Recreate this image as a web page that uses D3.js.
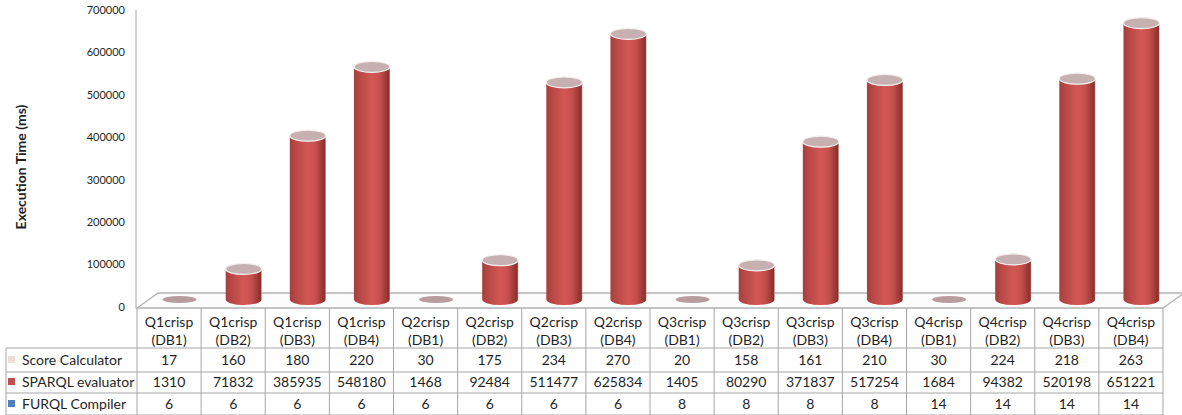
<!DOCTYPE html>
<html>
<head>
<meta charset="utf-8">
<script src="https://cdn.jsdelivr.net/npm/d3@7"></script>
<style>
  html, body { margin: 0; padding: 0; background: #fff; }
  svg { display: block; }
  text { font-family: Lato, "Open Sans", sans-serif; fill: #1f1f1f; }
</style>
</head>
<body>
<svg id="chart" width="1182" height="415"></svg>
<script>
// Queries run on each database
const categories = [
  ["Q1crisp", "(DB1)"], ["Q1crisp", "(DB2)"], ["Q1crisp", "(DB3)"], ["Q1crisp", "(DB4)"],
  ["Q2crisp", "(DB1)"], ["Q2crisp", "(DB2)"], ["Q2crisp", "(DB3)"], ["Q2crisp", "(DB4)"],
  ["Q3crisp", "(DB1)"], ["Q3crisp", "(DB2)"], ["Q3crisp", "(DB3)"], ["Q3crisp", "(DB4)"],
  ["Q4crisp", "(DB1)"], ["Q4crisp", "(DB2)"], ["Q4crisp", "(DB3)"], ["Q4crisp", "(DB4)"]
];

// Execution times (ms) per component
const furqlCompiler   = [6, 6, 6, 6, 6, 6, 6, 6, 8, 8, 8, 8, 14, 14, 14, 14];
const sparqlEvaluator = [1310, 71832, 385935, 548180, 1468, 92484, 511477, 625834,
                         1405, 80290, 371837, 517254, 1684, 94382, 520198, 651221];
const scoreCalculator = [17, 160, 180, 220, 30, 175, 234, 270,
                         20, 158, 161, 210, 30, 224, 218, 263];

const seriesNames = ["Score Calculator", "SPARQL evaluator", "FURQL Compiler"];
const seriesColors = ["#f2dcdb", "#c0504d", "#4f81bd"];
const yTicks = [0, 100000, 200000, 300000, 400000, 500000, 600000, 700000];

const svg = d3.select("#chart");

// Plot geometry
const plotLeft = 137, plotRight = 1163;
const depthX = 21, depthY = 15;          // 3-D floor depth offset
const floorY = 308;

const x = d3.scaleBand().domain(d3.range(categories.length)).range([plotLeft, plotRight]).padding(0);
const y = d3.scaleLinear().domain([0, 700000]).range([307, 10]);

// Stack bottom-up: compiler, evaluator, calculator
const rows = categories.map((c, i) => ({
  i, furql: furqlCompiler[i], sparql: sparqlEvaluator[i], score: scoreCalculator[i]
}));
const stack = d3.stack().keys(["furql", "sparql", "score"])(rows);

// Gradient for cylinder bodies
const defs = svg.append("defs");
function cylGradient(id, stops) {
  const g = defs.append("linearGradient").attr("id", id)
    .attr("x1", "0%").attr("x2", "100%").attr("y1", "0%").attr("y2", "0%");
  stops.forEach(([o, c]) => g.append("stop").attr("offset", o).attr("stop-color", c));
}
cylGradient("g-sparql", [["0%", "#a3403d"], ["18%", "#b94946"], ["50%", "#d25855"], ["72%", "#c64f4c"], ["90%", "#9c3835"], ["97%", "#8a2f2d"], ["100%", "#b98a8a"]]);
cylGradient("g-score", [["0%", "#cdb6b6"], ["50%", "#eadada"], ["100%", "#b8a0a0"]]);
cylGradient("g-furql", [["0%", "#3d6a9e"], ["50%", "#5b8ccb"], ["100%", "#345b88"]]);
const gradIds = { furql: "g-furql", sparql: "g-sparql", score: "g-score" };

// Floor of the 3-D plot
const floor = svg.append("g").attr("stroke", "#b3b3b3").attr("fill", "none").attr("stroke-width", 1.3);
floor.append("path").attr("d",
  `M${plotLeft},${floorY} L${plotLeft + depthX},${floorY - depthY} L${plotRight + depthX},${floorY - depthY} L${plotRight},${floorY} Z`)
  .attr("fill", "#fcfcfc");

// Y axis
const yAxis = svg.append("g");
yAxis.append("line").attr("x1", 136).attr("x2", 136).attr("y1", 10).attr("y2", floorY)
  .attr("stroke", "#a6a6a6").attr("stroke-width", 1);
yAxis.selectAll("text.tick").data(yTicks).join("text")
  .attr("class", "tick")
  .attr("x", 125).attr("y", d => y(d)).attr("dy", "0.35em")
  .attr("text-anchor", "end").attr("font-size", 11)
  .text(d => d3.format("d")(d));

svg.append("text")
  .attr("transform", "translate(26,167) rotate(-90)")
  .attr("text-anchor", "middle").attr("font-size", 14).attr("font-weight", "bold")
  .text("Execution Time (ms)");

// Cylinders
const rx = 18, ry = 5.5;
const shiftX = depthX / 2, shiftY = depthY / 2;
const bars = svg.append("g");
rows.forEach((r, i) => {
  const cx = x(i) + x.bandwidth() / 2 + shiftX;
  const g = bars.append("g");
  const base = y(0) - shiftY;
  const topV = stack[2][i][1];
  const topY = y(topV) - shiftY;
  if (topY > base - 3) {
    // Near-zero bar: only a flat disc is visible
    g.append("ellipse").attr("cx", cx).attr("cy", base).attr("rx", rx - 1).attr("ry", 3.5)
      .attr("fill", "#b89ca0");
    return;
  }
  stack.forEach(layer => {
    const y0 = y(layer[i][0]) - shiftY, y1 = y(layer[i][1]) - shiftY;
    if (y0 - y1 < 0.01) return;
    g.append("path")
      .attr("d", `M${cx - rx},${y1} L${cx - rx},${y0} A${rx},${ry} 0 0 0 ${cx + rx},${y0} L${cx + rx},${y1} A${rx},${ry} 0 0 1 ${cx - rx},${y1} Z`)
      .attr("fill", `url(#${gradIds[layer.key]})`);
  });
  // Top cap
  g.append("ellipse").attr("cx", cx).attr("cy", topY).attr("rx", rx).attr("ry", ry)
    .attr("fill", "#c6b0b2").attr("stroke", "#f4eeee").attr("stroke-width", 1.2);
});

// Data table
const table = svg.append("g");
const tableLeft = 6, rowLines = [348, 372, 393, 415];
const lineColor = "#a6a6a6";
const fs = 14;
// horizontal rules
rowLines.forEach(ly => table.append("line")
  .attr("x1", tableLeft).attr("x2", plotRight).attr("y1", ly).attr("y2", ly)
  .attr("stroke", lineColor));
// vertical rules
table.append("line").attr("x1", tableLeft).attr("x2", tableLeft).attr("y1", 348).attr("y2", 415).attr("stroke", lineColor);
d3.range(categories.length + 1).forEach(k => {
  const lx = plotLeft + k * x.bandwidth();
  table.append("line").attr("x1", lx).attr("x2", lx).attr("y1", floorY).attr("y2", 415).attr("stroke", lineColor);
});

// header labels
categories.forEach((c, i) => {
  const cx = x(i) + x.bandwidth() / 2;
  table.append("text").attr("x", cx).attr("y", 327).attr("text-anchor", "middle").attr("font-size", fs).text(c[0]);
  table.append("text").attr("x", cx).attr("y", 345).attr("text-anchor", "middle").attr("font-size", fs).text(c[1]);
});

// series rows
const seriesData = [scoreCalculator, sparqlEvaluator, furqlCompiler];
const rowCenters = [360, 382, 404];
seriesData.forEach((vals, s) => {
  const cy = rowCenters[s];
  table.append("rect").attr("x", 8).attr("y", cy - 4).attr("width", 7).attr("height", 7)
    .attr("fill", seriesColors[s]);
  table.append("text").attr("x", 22).attr("y", cy).attr("dy", "0.36em").attr("font-size", fs)
    .text(seriesNames[s]);
  vals.forEach((v, i) => {
    table.append("text").attr("x", x(i) + x.bandwidth() / 2).attr("y", cy).attr("dy", "0.36em")
      .attr("text-anchor", "middle").attr("font-size", fs).text(v);
  });
});
</script>
</body>
</html>
